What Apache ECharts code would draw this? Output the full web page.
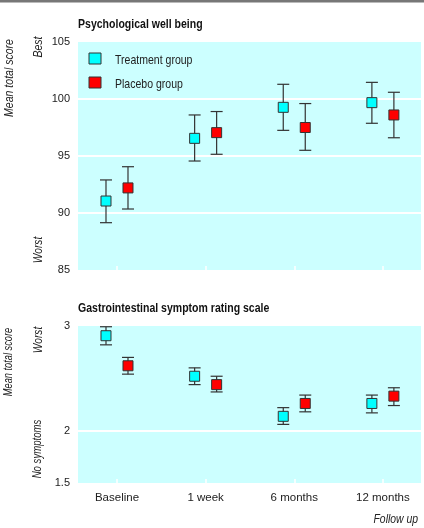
<!DOCTYPE html>
<html>
<head>
<meta charset="utf-8">
<script src="https://cdn.jsdelivr.net/npm/echarts@6/dist/echarts.min.js"></script>
<style>
html,body{margin:0;padding:0;background:#fff;}
#chart{width:424px;height:528px;}
</style>
</head>
<body>
<div id="chart"></div>
<script>
var categories = ['Baseline', '1 week', '6 months', '12 months'];
var seriesNames = ['Treatment group', 'Placebo group'];

// Psychological well being
var pwbTicks = [85, 90, 95, 100, 105];
var pwbTreatMean = [91.05, 96.55, 99.27, 99.68];
var pwbTreatLow  = [89.15, 94.56, 97.25, 97.87];
var pwbTreatHigh = [92.9, 98.6, 101.29, 101.46];
var pwbPlacMean  = [92.2, 97.05, 97.5, 98.6];
var pwbPlacLow   = [90.35, 95.15, 95.5, 96.6];
var pwbPlacHigh  = [94.06, 98.9, 99.6, 100.59];

// Gastrointestinal symptom rating scale
var gsrsTicks = [1.5, 2, 3];
var gsrsTreatMean = [2.907, 2.52, 2.137, 2.26];
var gsrsTreatLow  = [2.82, 2.44, 2.06, 2.17];
var gsrsTreatHigh = [2.993, 2.60, 2.22, 2.34];
var gsrsPlacMean  = [2.62, 2.44, 2.26, 2.33];
var gsrsPlacLow   = [2.54, 2.37, 2.18, 2.24];
var gsrsPlacHigh  = [2.70, 2.52, 2.34, 2.41];

var FONT = '"Liberation Sans Narrow", "Liberation Sans", Arial, sans-serif';
var TXT = '#222';
var BG = '#CCFFFF';
var COL_T = '#00FFFF';
var COL_P = '#FF0000';

function rows(mean, low, high) {
  return mean.map(function (m, i) { return [i, m, low[i], high[i]]; });
}

function errSeries(name, gridIdx, data, color, shift) {
  return {
    name: name,
    type: 'custom',
    xAxisIndex: gridIdx,
    yAxisIndex: gridIdx,
    data: data,
    z: 5,
    renderItem: function (params, api) {
      var x = api.value(0);
      var pm = api.coord([x, api.value(1)]);
      var pl = api.coord([x, api.value(2)]);
      var ph = api.coord([x, api.value(3)]);
      var cx = pm[0] + shift;
      var cap = 6, s = 5;
      var ls = { stroke: '#333', lineWidth: 1.2 };
      return {
        type: 'group',
        children: [
          { type: 'line', shape: { x1: cx, y1: pl[1], x2: cx, y2: ph[1] }, style: ls },
          { type: 'line', shape: { x1: cx - cap, y1: pl[1], x2: cx + cap, y2: pl[1] }, style: ls },
          { type: 'line', shape: { x1: cx - cap, y1: ph[1], x2: cx + cap, y2: ph[1] }, style: ls },
          { type: 'rect', shape: { x: cx - s, y: pm[1] - s, width: 2 * s, height: 2 * s },
            style: { fill: color, stroke: '#333', lineWidth: 1 } }
        ]
      };
    }
  };
}

function xAxisDef(gridIdx, showLabels) {
  return {
    type: 'value', gridIndex: gridIdx, min: -0.44, max: 3.43,
    axisLine: { show: false },
    splitLine: { show: false },
    axisTick: { show: true, inside: true, length: 4, customValues: [0, 1, 2, 3],
      lineStyle: { color: '#fff', width: 1.5 } },
    axisLabel: { show: showLabels, customValues: [0, 1, 2, 3], margin: 9,
      fontFamily: FONT, fontSize: 11.5, color: TXT,
      formatter: function (v) { return categories[Math.round(v)]; } }
  };
}

function label(text, x, y, opts) {
  var o = opts || {};
  return {
    type: 'text', x: x, y: y,
    rotation: o.rot ? Math.PI / 2 : 0,
    scaleX: o.sx || 0.81, scaleY: 1,
    style: {
      text: text, fontFamily: FONT, fontSize: o.size || 13,
      fontStyle: o.italic ? 'italic' : 'normal',
      fontWeight: o.bold ? 'bold' : 'normal',
      fill: o.color || TXT, align: o.align || 'left', verticalAlign: 'middle'
    }
  };
}

var chart = echarts.init(document.getElementById('chart'), null, { renderer: 'canvas' });

var option = {
  animation: false,
  backgroundColor: '#fff',
  grid: [
    { left: 78, top: 42, width: 343, height: 228, show: true, backgroundColor: BG, borderWidth: 0 },
    { left: 78, top: 326, width: 343, height: 157, show: true, backgroundColor: BG, borderWidth: 0 }
  ],
  xAxis: [xAxisDef(0, false), xAxisDef(1, true)],
  yAxis: [
    { type: 'value', gridIndex: 0, min: 85, max: 105, interval: 5,
      axisLine: { show: false }, axisTick: { show: false },
      axisLabel: { fontFamily: FONT, fontSize: 11, color: TXT, margin: 8,
        customValues: pwbTicks },
      splitLine: { show: true, showMinLine: false, showMaxLine: false,
        lineStyle: { color: '#fff', width: 2 } } },
    { type: 'value', gridIndex: 1, min: 1.5, max: 3,
      axisLine: { show: false }, axisTick: { show: false },
      axisLabel: { fontFamily: FONT, fontSize: 11, color: TXT, margin: 8,
        customValues: gsrsTicks },
      splitLine: { show: false } }
  ],
  series: [
    errSeries(seriesNames[0], 0, rows(pwbTreatMean, pwbTreatLow, pwbTreatHigh), COL_T, -11),
    errSeries(seriesNames[1], 0, rows(pwbPlacMean, pwbPlacLow, pwbPlacHigh), COL_P, 11),
    errSeries(seriesNames[0], 1, rows(gsrsTreatMean, gsrsTreatLow, gsrsTreatHigh), COL_T, -11),
    errSeries(seriesNames[1], 1, rows(gsrsPlacMean, gsrsPlacLow, gsrsPlacHigh), COL_P, 11),
    {
      type: 'line', xAxisIndex: 1, yAxisIndex: 1, data: [], silent: true,
      markLine: { silent: true, symbol: 'none', label: { show: false },
        lineStyle: { color: '#fff', width: 2, type: 'solid' },
        data: [{ yAxis: 2 }] }
    }
  ],
  graphic: [
    { type: 'rect', left: 0, top: 0, shape: { width: 424, height: 2.5 }, style: { fill: '#777' } },
    // titles
    label('Psychological well being', 78, 24, { size: 13, bold: true, sx: 0.81, color: '#111' }),
    label('Gastrointestinal symptom rating scale', 78, 308, { size: 13, bold: true, sx: 0.81, color: '#111' }),
    // legend
    { type: 'rect', shape: { x: 89, y: 53, width: 12, height: 11 }, style: { fill: COL_T, stroke: '#333', lineWidth: 1 } },
    label(seriesNames[0], 115, 60, { size: 13, sx: 0.81 }),
    { type: 'rect', shape: { x: 89, y: 77, width: 12, height: 11 }, style: { fill: COL_P, stroke: '#333', lineWidth: 1 } },
    label(seriesNames[1], 115, 84, { size: 13, sx: 0.81 }),
    // axis side labels
    label('Mean total score', 9, 78, { rot: true, italic: true, align: 'center', size: 13, sx: 0.81 }),
    label('Best', 38, 47, { rot: true, italic: true, align: 'center', size: 13, sx: 0.81 }),
    label('Worst', 38, 250, { rot: true, italic: true, align: 'center', size: 13, sx: 0.78 }),
    label('Mean total score', 9, 362, { rot: true, italic: true, align: 'center', size: 12, sx: 0.77 }),
    label('Worst', 38, 340, { rot: true, italic: true, align: 'center', size: 13, sx: 0.78 }),
    label('No symptoms', 38, 449, { rot: true, italic: true, align: 'center', size: 12, sx: 0.8 }),
    label('Follow up', 418, 519, { italic: true, align: 'right', size: 13, sx: 0.8 })
  ]
};
chart.setOption(option);
</script>
</body>
</html>
